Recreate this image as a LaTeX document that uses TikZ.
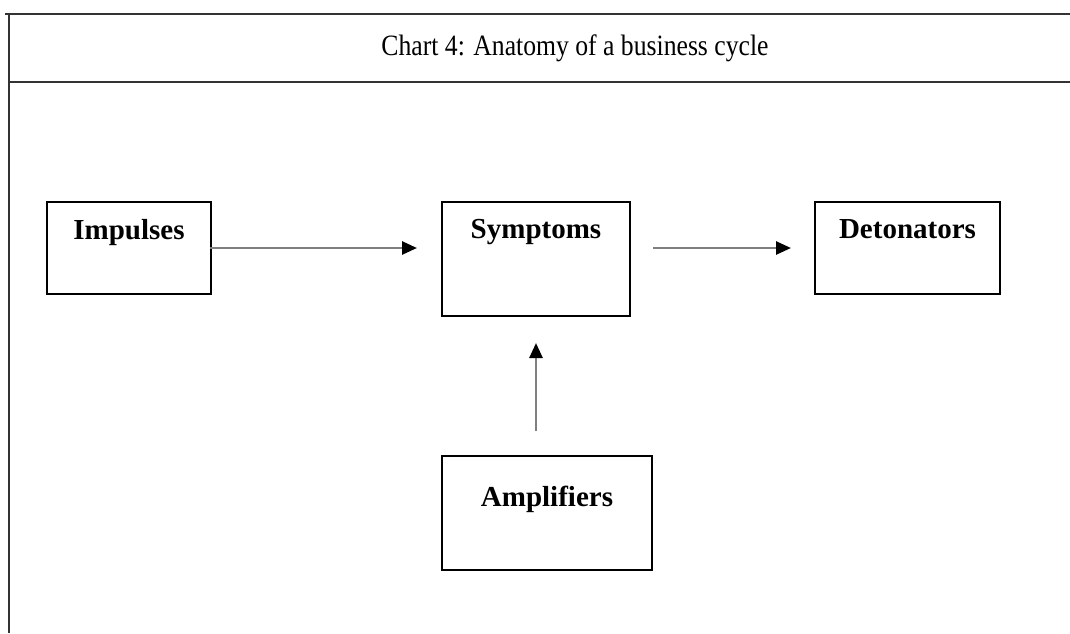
\documentclass[tikz,border=0pt]{standalone}
\usepackage{fontspec}
\setmainfont{Liberation Serif}
\newfontfamily\titlefont[FakeStretch=0.87]{Liberation Serif}
\usetikzlibrary{arrows.meta}
\tikzset{
  frame/.style={draw=black!80, line width=2.4pt},
  box/.style={draw=black, line width=2pt, inner sep=0pt},
  lbl/.style={font=\fontsize{29}{30}\selectfont\bfseries, anchor=north, inner sep=0pt},
  arr/.style={draw=black!50, line width=2.6pt, -{Triangle[length=15pt,width=13pt,color=black]}},
  ttl/.style={font=\titlefont\fontsize{29.5}{31}\selectfont, inner sep=0pt}
}
\begin{document}
\begin{tikzpicture}[x=1pt,y=-1pt]
\useasboundingbox (0,0) rectangle (1070,633);
% frame
\coordinate (tl) at (9,14);
\coordinate (tr) at (1070,14);
\coordinate (hl) at (9,82);
\coordinate (hr) at (1070,82);
\coordinate (bl) at (9,633);
\draw[frame] (5,14) -- (tr);
\draw[frame] (hl) -- (hr);
\draw[frame] (tl) -- (bl);
\node[ttl] (title) at (575,48) {Chart 4: Anatomy of a business cycle};
% boxes
\node[box, minimum width=164pt, minimum height=92pt] (imp) at (129,248) {};
\node[box, minimum width=188pt, minimum height=114pt] (sym) at (536,259) {};
\node[box, minimum width=185pt, minimum height=92pt] (det) at (907.5,248) {};
\node[box, minimum width=210pt, minimum height=114pt] (amp) at (547,513) {};
% labels
\node[lbl] (impl) at ([yshift=-18pt]imp.north) {Impulses};
\node[lbl] (syml) at ([yshift=-18pt]sym.north) {Symptoms};
\node[lbl] (detl) at ([yshift=-18pt]det.north) {Detonators};
\node[lbl] (ampl) at ([yshift=-31pt]amp.north) {Amplifiers};
% arrows
\draw[arr, shorten <=-2pt, shorten >=24pt] (imp.east) -- (imp.east -| sym.west);
\draw[arr, shorten <=22pt, shorten >=23pt] (sym.east |- det.west) -- (det.west);
\draw[arr, shorten <=24pt, shorten >=26pt] (sym.south |- amp.north) -- (sym.south);
\end{tikzpicture}
\end{document}
